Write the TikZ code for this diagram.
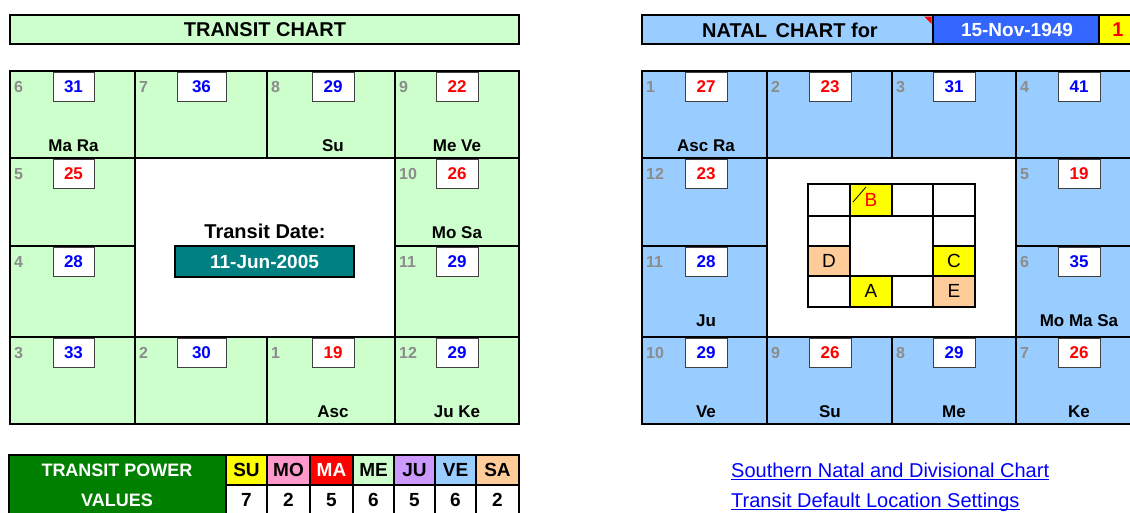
\documentclass[tikz,border=0pt]{standalone}
\usepackage{fontspec}
\setmainfont{Liberation Sans}
\definecolor{tgreen}{HTML}{CCFFCC}
\definecolor{nblue}{HTML}{99CCFF}
\definecolor{dblue}{HTML}{3366FF}
\definecolor{peach}{HTML}{FFCC99}
\definecolor{pinkc}{HTML}{FF99CC}
\definecolor{lav}{HTML}{CC99FF}
\definecolor{tealc}{HTML}{008080}
\definecolor{dgreen}{HTML}{008000}
\definecolor{hgray}{HTML}{8C8C8C}
\definecolor{degblue}{HTML}{0000FF}
\definecolor{degred}{HTML}{FF0000}
\definecolor{yel}{HTML}{FFFF00}
\tikzset{
  gridline/.style={line width=2.6pt, draw=black},
  innerline/.style={line width=2.2pt, draw=black},
  numbox/.style={draw=black!75, line width=0.9pt, fill=white, inner sep=0pt,
    font=\bfseries\fontsize{17}{17}\selectfont},
  hnum/.style={text=hgray, anchor=west, inner sep=0pt, font=\bfseries\fontsize{16}{16}\selectfont},
  planet/.style={inner sep=0pt, font=\bfseries\fontsize{17}{17}\selectfont},
  title/.style={inner sep=0pt, font=\bfseries\fontsize{20}{20}\selectfont},
  letter/.style={inner sep=0pt, font=\fontsize{19}{19}\selectfont},
  tabhead/.style={inner sep=0pt, font=\bfseries\fontsize{19}{19}\selectfont},
  link/.style={inner sep=0pt, text=degblue, anchor=base west, font=\fontsize{20}{20}\selectfont},
  linkline/.style={draw=degblue, line width=1pt},
}
\newcommand\hs[9]{%
  \pgfmathsetmacro\hsbw{#5-#4}%
  \node[hnum] (#1n) at (#2+4,#3+16) {#6};
  \node[numbox, minimum width=\hsbw pt, minimum height=29pt, text=#8] (#1b) at ({(#4+#5)/2},#3+15.5) {#7};
  \node[planet] (#1p) at ({(#4+#5)/2},#3+75) {#9};
}
\begin{document}
\begin{tikzpicture}[x=1pt,y=-1pt]
\useasboundingbox (0,0) rectangle (1130,512);
\clip (0,0) rectangle (1130,512);
\fill[white] (0,0) rectangle (1130,512);

% ---------- Transit title ----------
\draw[gridline, fill=tgreen] (10,15) rectangle (519,44);
\node[title] (ttitle) at (265,30) {TRANSIT CHART};

% ---------- Transit chart ----------
\fill[tgreen] (10,71) rectangle (519,424);
\fill[white] (135,158) rectangle (395,337);
\hs{t6}{10}{71}{53}{94}{6}{31}{degblue}{Ma Ra}
\hs{t7}{135}{71}{177}{226}{7}{36}{degblue}{}
\hs{t8}{267}{71}{312}{354}{8}{29}{degblue}{Su}
\hs{t9}{395}{71}{436}{478}{9}{22}{degred}{Me Ve}
\hs{t5}{10}{158}{53}{94}{5}{25}{degred}{}
\hs{t10}{395}{158}{436}{478}{10}{26}{degred}{Mo Sa}
\hs{t4}{10}{246}{53}{94}{4}{28}{degblue}{}
\hs{t11}{395}{246}{436}{478}{11}{29}{degblue}{}
\hs{t3}{10}{337}{53}{94}{3}{33}{degblue}{}
\hs{t2}{135}{337}{177}{226}{2}{30}{degblue}{}
\hs{t1}{267}{337}{312}{354}{1}{19}{degred}{Asc}
\hs{t12}{395}{337}{436}{478}{12}{29}{degblue}{Ju Ke}
\draw[gridline] (10,71) rectangle (519,424);
\draw[gridline] (135,71) -- (135,424) (395,71) -- (395,424)
  (267,71) -- (267,158) (267,337) -- (267,424)
  (10,158) -- (519,158) (10,337) -- (519,337)
  (10,246) -- (135,246) (395,246) -- (519,246);
\node[title] (tdlabel) at (265,231) {Transit Date:};
\node[draw=black, line width=2pt, fill=tealc, text=white, minimum width=179pt, minimum height=31pt,
  inner sep=0pt, font=\bfseries\fontsize{19}{19}\selectfont] (tdate) at (264.5,261.5) {11-Jun-2005};

% ---------- Natal title ----------
\fill[nblue] (642,15) rectangle (933,44);
\fill[dblue] (933,15) rectangle (1099,44);
\fill[yel] (1099,15) rectangle (1150,44);
\draw[gridline] (642,15) rectangle (1150,44) (933,15) -- (933,44) (1099,15) -- (1099,44);
\fill[degred] (924,16.5) -- (931.5,16.5) -- (931.5,24) -- cycle;
\node[title] (ntitle) at (790,30) {NATAL\hspace{3pt} CHART for};
\node[title, text=white, font=\bfseries\fontsize{19}{19}\selectfont] (ndate) at (1017,30) {15-Nov-1949};
\node[title, text=degred] (nnum) at (1118,30) {1};

% ---------- Natal chart ----------
\fill[nblue] (642,71) rectangle (1141,424);
\fill[white] (767,158) rectangle (1016,337);
\hs{n1}{642}{71}{685}{727}{1}{27}{degred}{Asc Ra}
\hs{n2}{767}{71}{809}{851}{2}{23}{degred}{}
\hs{n3}{892}{71}{933}{975}{3}{31}{degblue}{}
\hs{n4}{1016}{71}{1058}{1100}{4}{41}{degblue}{}
\hs{n12}{642}{158}{685}{727}{12}{23}{degred}{}
\hs{n5}{1016}{158}{1058}{1100}{5}{19}{degred}{}
\hs{n11}{642}{246}{685}{727}{11}{28}{degblue}{Ju}
\hs{n6}{1016}{246}{1058}{1100}{6}{35}{degblue}{Mo Ma Sa}
\hs{n10}{642}{337}{685}{727}{10}{29}{degblue}{Ve}
\hs{n9}{767}{337}{809}{851}{9}{26}{degred}{Su}
\hs{n8}{892}{337}{933}{975}{8}{29}{degblue}{Me}
\hs{n7}{1016}{337}{1058}{1100}{7}{26}{degred}{Ke}
\draw[gridline] (642,71) rectangle (1141,424);
\draw[gridline] (767,71) -- (767,424) (1016,71) -- (1016,424)
  (892,71) -- (892,158) (892,337) -- (892,424)
  (642,158) -- (1141,158) (642,337) -- (1141,337)
  (642,246) -- (767,246) (1016,246) -- (1141,246);

% ---------- Inner small chart ----------
\fill[white] (808,184) rectangle (975,307);
\fill[yel] (850,184) rectangle (892,216);
\fill[peach] (808,246) rectangle (850,276);
\fill[yel] (933,246) rectangle (975,276);
\fill[yel] (850,276) rectangle (892,307);
\fill[peach] (933,276) rectangle (975,307);
\draw[innerline] (808,184) rectangle (975,307);
\draw[innerline] (850,184) -- (850,307) (933,184) -- (933,307)
  (892,184) -- (892,216) (892,276) -- (892,307)
  (808,216) -- (975,216) (808,276) -- (975,276)
  (808,246) -- (850,246) (933,246) -- (975,246);
\coordinate (bs) at (853,202);
\coordinate (be) at (866,187);
\draw[line width=0.8pt] (bs) -- (be);
\node[letter, text=degred] (lB) at (871,200) {B};
\node[letter] (lA) at (871,291) {A};
\node[letter] (lC) at (954,261) {C};
\node[letter] (lD) at (829,261) {D};
\node[letter] (lE) at (954,291) {E};

% ---------- Transit power table ----------
\fill[dgreen] (9,455) rectangle (226,530);
\fill[yel] (226,455) rectangle (267,485);
\fill[pinkc] (267,455) rectangle (310,485);
\fill[degred] (310,455) rectangle (353,485);
\fill[tgreen] (353,455) rectangle (394,485);
\fill[lav] (394,455) rectangle (435,485);
\fill[nblue] (435,455) rectangle (476,485);
\fill[peach] (476,455) rectangle (519,485);
\fill[white] (226,485) rectangle (519,530);
\draw[gridline] (9,455) rectangle (519,530);
\draw[gridline] (226,455) -- (226,530) (267,455) -- (267,530) (310,455) -- (310,530)
  (353,455) -- (353,530) (394,455) -- (394,530) (435,455) -- (435,530) (476,455) -- (476,530)
  (226,485) -- (519,485);
\node[tabhead, text=white, font=\bfseries\fontsize{18}{18}\selectfont] (tp1) at (117,470) {TRANSIT POWER};
\node[tabhead, text=white, font=\bfseries\fontsize{18}{18}\selectfont] (tp2) at (117,500) {VALUES};
\node[tabhead] (hsu) at (246.5,470) {SU};
\node[tabhead] (hmo) at (288.5,470) {MO};
\node[tabhead, text=white] (hma) at (331.5,470) {MA};
\node[tabhead] (hme) at (373.5,470) {ME};
\node[tabhead] (hju) at (414.5,470) {JU};
\node[tabhead] (hve) at (455.5,470) {VE};
\node[tabhead] (hsa) at (497.5,470) {SA};
\node[tabhead] (vsu) at (246.5,500) {7};
\node[tabhead] (vmo) at (288.5,500) {2};
\node[tabhead] (vma) at (331.5,500) {5};
\node[tabhead] (vme) at (373.5,500) {6};
\node[tabhead] (vju) at (414.5,500) {5};
\node[tabhead] (vve) at (455.5,500) {6};
\node[tabhead] (vsa) at (497.5,500) {2};

% ---------- Links ----------
\node[link] (lk1) at (731,477) {Southern Natal and Divisional Chart};
\draw[linkline] ([yshift=-2.5pt]lk1.base west) -- ([yshift=-2.5pt]lk1.base east);
\node[link] (lk2) at (731,507) {Transit Default Location Settings};
\draw[linkline] ([yshift=-2.5pt]lk2.base west) -- ([yshift=-2.5pt]lk2.base east);
\end{tikzpicture}
\end{document}
